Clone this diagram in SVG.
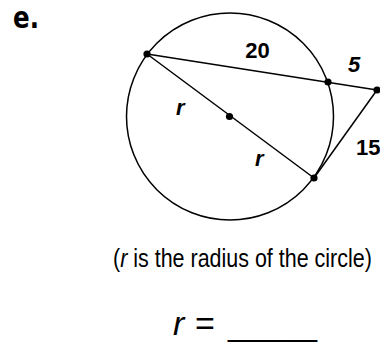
<svg xmlns="http://www.w3.org/2000/svg" width="380" height="343" viewBox="0 0 380 343">
<style>
.ln{stroke:#000;stroke-width:1.5;fill:none}
.dot{fill:#000}
.lb{font-family:"Liberation Sans",Arial,sans-serif;font-weight:bold;font-size:22px;fill:#000}
.it{font-style:italic}
.cap{font-family:"Liberation Sans",Arial,sans-serif;fill:#000}
</style>
<rect width="380" height="343" fill="#fff"/>
<text x="13" y="28" font-family="DejaVu Sans,Verdana,sans-serif" font-weight="bold" font-size="31" textLength="26" lengthAdjust="spacingAndGlyphs">e.</text>
<g id="circle"><circle class="ln" cx="230" cy="116.5" r="103.5"/></g>
<g id="connectors">
<line class="ln" x1="147" y1="54" x2="377" y2="90"/>
<line class="ln" x1="147" y1="54" x2="314" y2="178"/>
<line class="ln" x1="377" y1="90" x2="314" y2="178"/>
</g>
<g id="pA"><circle class="dot" cx="147" cy="54" r="3.6"/></g>
<g id="pO"><circle class="dot" cx="229.5" cy="116.5" r="3.6"/></g>
<g id="pB"><circle class="dot" cx="314" cy="178" r="3.6"/></g>
<g id="pC"><circle class="dot" cx="328" cy="82" r="3.6"/></g>
<g id="pP"><circle class="dot" cx="377" cy="90" r="3.6"/></g>
<g id="labels">
<text class="lb" x="257.5" y="58" text-anchor="middle">20</text>
<text class="lb it" x="348" y="72">5</text>
<text class="lb" x="356" y="155">15</text>
<text class="lb it" x="176" y="115">r</text>
<text class="lb it" x="255" y="166">r</text>
</g>
<text class="cap" transform="translate(113,267) scale(0.826,1)" font-size="26">(<tspan font-style="italic">r</tspan> is the radius of the circle)</text>
<text class="cap" x="173" y="335" font-size="34" font-style="italic">r</text>
<text class="cap" x="195" y="335" font-size="34">=</text>
<text class="cap" x="228" y="335" font-size="34" textLength="89" lengthAdjust="spacingAndGlyphs">_____</text>
</svg>
